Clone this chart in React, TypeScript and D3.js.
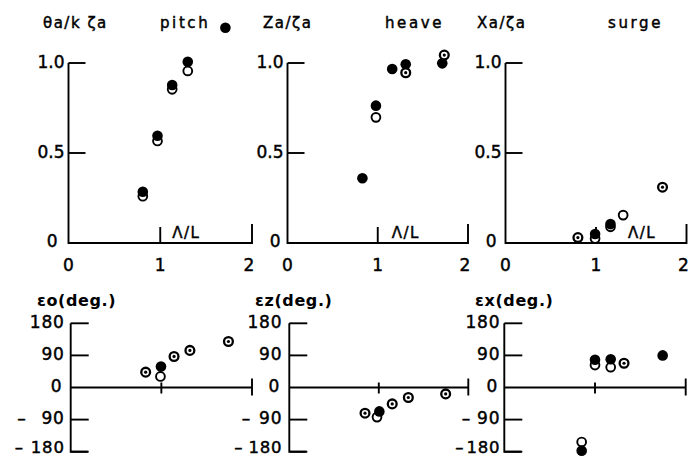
import React from "react";
import * as d3 from "d3";

type Pt = [number, number];

// Wavelength ratio Λ/L on x; three kinds of marks:
// solid = filled, open = hollow, both = hollow with a centre dot (values coincide)

// Pitch amplitude θa/kζa
const pitchSolid: Pt[] = [[0.81, 0.285], [0.97, 0.596], [1.13, 0.878], [1.3, 1.007], [1.71, 1.196]];
const pitchOpen: Pt[] = [[0.81, 0.26], [0.97, 0.567], [1.13, 0.854], [1.3, 0.956]];
const pitchBoth: Pt[] = [];

// Heave amplitude Za/ζa
const heaveSolid: Pt[] = [[0.83, 0.36], [0.98, 0.763], [1.16, 0.967], [1.31, 0.993], [1.715, 0.998]];
const heaveOpen: Pt[] = [[0.98, 0.698]];
const heaveBoth: Pt[] = [[1.31, 0.946], [1.737, 1.044]];

// Surge amplitude Xa/ζa
const surgeSolid: Pt[] = [[0.99, 0.05], [1.16, 0.105]];
const surgeOpen: Pt[] = [[0.99, 0.025], [1.16, 0.09], [1.3, 0.155]];
const surgeBoth: Pt[] = [[0.8, 0.03], [1.735, 0.31]];

// Pitch phase εo (deg.)
const epsOSolid: Pt[] = [[0.996, 59]];
const epsOOpen: Pt[] = [[0.99, 31]];
const epsOBoth: Pt[] = [[0.827, 43], [1.14, 87], [1.315, 104], [1.74, 129]];

// Heave phase εz (deg.)
const epsZSolid: Pt[] = [[1.006, -67]];
const epsZOpen: Pt[] = [[0.98, -83]];
const epsZBoth: Pt[] = [[0.846, -72], [1.15, -46], [1.33, -28], [1.747, -18]];

// Surge phase εx (deg.)
const epsXSolid: Pt[] = [[0.853, -177], [1.0, 78], [1.173, 79], [1.746, 90]];
const epsXOpen: Pt[] = [[0.853, -153], [1.0, 63], [1.173, 57]];
const epsXBoth: Pt[] = [[1.32, 68]];

const ampTicks = [0.5, 1.0];
const ampTickLabels = ["0.5", "1.0"];
const phaseTicks = [180, 90, -90, -180];
const xTicks = [0, 1, 2];
const xTickLabels = ["0", "1", "2"];

const W = 689;
const H = 457;
const FONT = "'DejaVu Sans', sans-serif";
const SW = 1.9;
const R = 5;
const TXT = { fontFamily: FONT, stroke: "#000", strokeWidth: 0.45 } as const;

const ampY = d3.scaleLinear().domain([0, 1]).range([243, 63]);
const phaseY = d3.scaleLinear().domain([-180, 180]).range([451.7, 323.3]);

function Marks({ x, y, solid, open, both }: { x: d3.ScaleLinear<number, number>; y: d3.ScaleLinear<number, number>; solid: Pt[]; open: Pt[]; both: Pt[] }) {
  return (
    <g>
      {open.map((d, i) => (
        <circle key={"o" + i} cx={x(d[0])} cy={y(d[1])} r={R - 0.6} fill="#fff" stroke="#000" strokeWidth={SW} />
      ))}
      {solid.map((d, i) => (
        <circle key={"s" + i} cx={x(d[0])} cy={y(d[1])} r={R + 0.3} fill="#000" />
      ))}
      {both.map((d, i) => (
        <g key={"b" + i}>
          <circle cx={x(d[0])} cy={y(d[1])} r={R - 0.6} fill="#fff" stroke="#000" strokeWidth={SW + 0.4} />
          <circle cx={x(d[0])} cy={y(d[1])} r={1.6} fill="#000" />
        </g>
      ))}
    </g>
  );
}

function AmpPanel(props: {
  x0: number; x2: number; title: string; titleX: number; motion: string; motionX: number;
  lamDx: number; zeroGap: number; solid: Pt[]; open: Pt[]; both: Pt[];
}) {
  const { x0, x2, title, titleX, motion, motionX, lamDx, zeroGap } = props;
  const x = d3.scaleLinear().domain([0, 2]).range([x0, x2]);
  const y0 = ampY(0);
  return (
    <g>
      <text x={titleX} y={28} {...TXT} fontSize={15} letterSpacing={1.5}>{title}</text>
      <text x={motionX} y={28} {...TXT} fontSize={15} letterSpacing={2.6}>{motion}</text>
      <path d={`M${x0},${ampY(1)}V${y0}H${x(2)}V${y0 - 19}`} fill="none" stroke="#000" strokeWidth={SW} />
      <path d={`M${x(1)},${y0}V${y0 - 16}`} stroke="#000" strokeWidth={SW} />
      {ampTicks.map((t, i) => (
        <g key={t}>
          <path d={`M${x0},${ampY(t)}H${x0 + 17}`} stroke="#000" strokeWidth={SW} />
          <text x={x0 - 4} y={ampY(t) + 5} textAnchor="end" {...TXT} fontSize={17}>{ampTickLabels[i]}</text>
        </g>
      ))}
      <text x={x0 - zeroGap} y={y0 + 4} textAnchor="end" {...TXT} fontSize={17}>0</text>
      {xTicks.map((t, i) => (
        <text key={t} x={x(t) - (t === 2 ? 3 : 0)} y={271} textAnchor="middle" {...TXT} fontSize={17}>{xTickLabels[i]}</text>
      ))}
      <text x={x(1) + lamDx} y={238} {...TXT} fontSize={15} letterSpacing={1.5}>Λ/L</text>
      <Marks x={x} y={ampY} solid={props.solid} open={props.open} both={props.both} />
    </g>
  );
}

function PhasePanel(props: {
  x0: number; x2: number; title: string; titleX: number; gap: number; minusGap90: number; minusGap180: number;
  solid: Pt[]; open: Pt[]; both: Pt[];
}) {
  const { x0, x2, title, titleX, gap, minusGap90, minusGap180 } = props;
  const x = d3.scaleLinear().domain([0, 2]).range([x0, x2]);
  const y0 = phaseY(0);
  return (
    <g>
      <text x={titleX} y={306} fontFamily={FONT} fontSize={16} fontWeight="bold" letterSpacing={0.6}>{title}</text>
      <path d={`M${x0},${phaseY(180)}V${phaseY(-180)}H${x0 + 17}`} fill="none" stroke="#000" strokeWidth={SW} />
      <path d={`M${x0},${y0}H${x(2)}`} stroke="#000" strokeWidth={SW} />
      <path d={`M${x(1)},${y0 - 5}V${y0 + 6}`} stroke="#000" strokeWidth={SW} />
      <path d={`M${x(2)},${y0 - 9}V${y0 + 8}`} stroke="#000" strokeWidth={SW} />
      {phaseTicks.map((t) => (
        <g key={t}>
          <path d={`M${x0},${phaseY(t)}H${x0 + 18}`} stroke="#000" strokeWidth={SW} />
          <text x={x0 - gap} y={t === -180 ? phaseY(t) + 0.8 : phaseY(t) + 4.5} textAnchor="end" {...TXT}
            fontSize={t === -180 ? 16.5 : 17} letterSpacing={0.8}>
            {t < 0 ? <tspan>–</tspan> : null}
            <tspan dx={t < 0 ? (t === -90 ? minusGap90 : minusGap180) : 0}>{Math.abs(t)}</tspan>
          </text>
        </g>
      ))}
      <text x={x0 - gap - 3} y={y0 + 4} textAnchor="end" {...TXT} fontSize={17}>0</text>
      <Marks x={x} y={phaseY} solid={props.solid} open={props.open} both={props.both} />
    </g>
  );
}

export default function App() {
  return (
    <svg width={W} height={H} viewBox={`0 0 ${W} ${H}`} style={{ position: "absolute", left: 0, top: 0, background: "#fff" }}>
      <rect width={W} height={H} fill="#fff" />
      <AmpPanel x0={68.5} x2={252} title="θa/k ζa" titleX={43} motion="pitch" motionX={160} lamDx={12} zeroGap={11}
        solid={pitchSolid} open={pitchOpen} both={pitchBoth} />
      <AmpPanel x0={287.5} x2={468} title="Za/ζa" titleX={263} motion="heave" motionX={385} lamDx={14} zeroGap={7}
        solid={heaveSolid} open={heaveOpen} both={heaveBoth} />
      <AmpPanel x0={505.5} x2={686.5} title="Xa/ζa" titleX={477} motion="surge" motionX={608} lamDx={32} zeroGap={9}
        solid={surgeSolid} open={surgeOpen} both={surgeBoth} />
      <PhasePanel x0={70.7} x2={252} title="εo(deg.)" titleX={37} gap={6} minusGap90={15} minusGap180={7}
        solid={epsOSolid} open={epsOOpen} both={epsOBoth} />
      <PhasePanel x0={289.3} x2={468.3} title="εz(deg.)" titleX={255} gap={7} minusGap90={8} minusGap180={5}
        solid={epsZSolid} open={epsZOpen} both={epsZBoth} />
      <PhasePanel x0={504.3} x2={685.7} title="εx(deg.)" titleX={475} gap={4} minusGap90={6} minusGap180={2}
        solid={epsXSolid} open={epsXOpen} both={epsXBoth} />
    </svg>
  );
}
